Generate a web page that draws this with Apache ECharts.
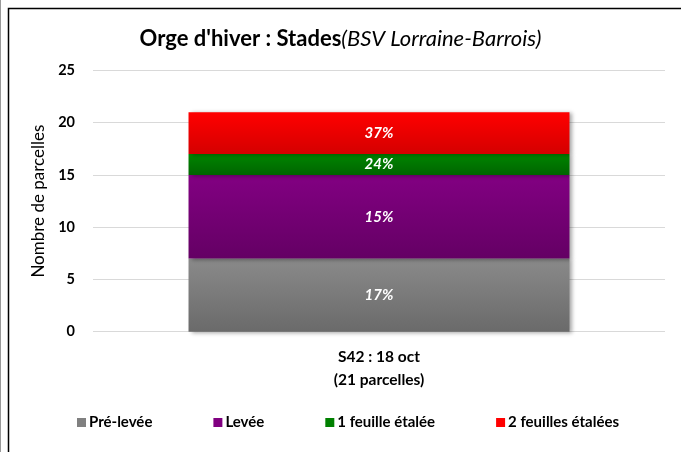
<!DOCTYPE html>
<html><head><meta charset="utf-8">
<script src="https://cdn.jsdelivr.net/npm/echarts@6/dist/echarts.min.js"></script>
<style>html,body{margin:0;padding:0;background:#fff}#c{width:681px;height:452px}</style>
</head><body><div id="c"></div>
<script>
const categories = ['S42 : 18 oct\n(21 parcelles)'];
const seriesNames = ['Pré-levée', 'Levée', '1 feuille étalée', '2 feuilles étalées'];
const seriesValues = [[7], [8], [2], [4]];
const seriesLabels = ['17%', '15%', '24%', '37%'];
const yTicks = [0, 5, 10, 15, 20, 25];

const colorsTop = ['#8a8a8a', '#820082', '#008500', '#ff0000'];
const colorsBot = ['#6a6a6a', '#640064', '#006400', '#d40000'];
const legendColors = ['#808080', '#800080', '#008000', '#ff0000'];
const FONT = 'Lato';

const chart = echarts.init(document.getElementById('c'));
chart.setOption({
  animation: false,
  textStyle: { fontFamily: FONT },
  title: {
    text: "{b|Orge d'hiver : Stades}{i|(BSV Lorraine-Barrois)}",
    left: 'center', top: 23,
    textStyle: {
      fontWeight: 'normal',
      rich: {
        b: { fontFamily: FONT, fontWeight: 'bold', fontSize: 22, color: '#000' },
        i: { fontFamily: FONT, fontStyle: 'italic', fontWeight: 'normal', fontSize: 22, color: '#000' }
      }
    }
  },
  legend: {
    bottom: 17, left: 72,
    itemWidth: 9, itemHeight: 9, itemGap: 61,
    icon: 'rect',
    textStyle: { fontFamily: FONT, fontWeight: 'bold', fontSize: 15, color: '#000', padding: [0, 0, 0, -2] },
    data: seriesNames.map((n, i) => ({ name: n, itemStyle: { color: legendColors[i] } }))
  },
  grid: { left: 93, right: 16, top: 70.5, bottom: 120.3, containLabel: false },
  xAxis: {
    type: 'category', data: categories,
    axisLine: { show: false }, axisTick: { show: false },
    axisLabel: { fontFamily: FONT, fontWeight: 'bold', fontSize: 15.5, color: '#000', lineHeight: 23, margin: 14 }
  },
  yAxis: {
    type: 'value', min: yTicks[0], max: yTicks[yTicks.length - 1], interval: 5,
    name: 'Nombre de parcelles', nameLocation: 'middle', nameGap: 41,
    nameTextStyle: { fontFamily: FONT, fontSize: 17, color: '#000' },
    axisLine: { show: false }, axisTick: { show: false },
    axisLabel: { fontFamily: FONT, fontWeight: 'bold', fontSize: 14.5, color: '#000', margin: 18 },
    splitLine: { lineStyle: { color: '#d9d9d9', width: 1 } }
  },
  series: seriesNames.map((n, i) => ({
    name: n, type: 'bar', stack: 'total', data: seriesValues[i],
    barWidth: '66.6%',
    itemStyle: {
      color: new echarts.graphic.LinearGradient(0, 0, 0, 1, [
        { offset: 0, color: colorsTop[i] }, { offset: 1, color: colorsBot[i] }]),
      shadowColor: 'rgba(0,0,0,0.35)', shadowBlur: 4, shadowOffsetX: 3, shadowOffsetY: 1
    },
    label: {
      show: true, position: 'inside', formatter: seriesLabels[i],
      fontFamily: FONT, fontStyle: 'italic', fontWeight: 'bold', fontSize: 15, color: '#fff'
    }
  })),
  graphic: [
    { type: 'rect', shape: { x: 8.5, y: 8.5, width: 700, height: 500 }, style: { fill: 'none', stroke: '#000', lineWidth: 1.5 }, silent: true },
    { type: 'line', shape: { x1: 0.5, y1: 0, x2: 0.5, y2: 452 }, style: { stroke: '#999', lineWidth: 1 }, silent: true }
  ]
});
</script></body></html>
